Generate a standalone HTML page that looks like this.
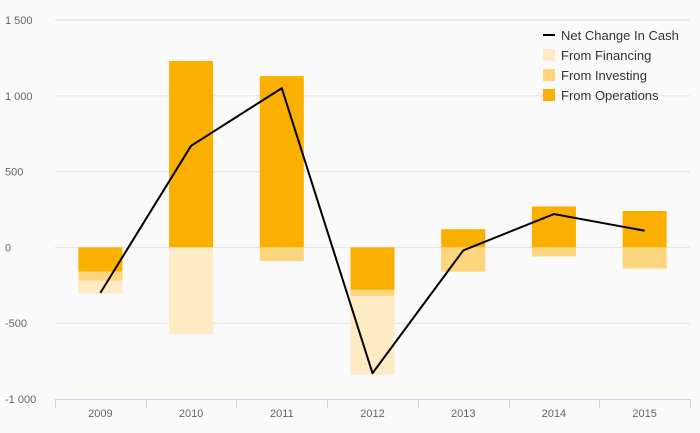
<!DOCTYPE html>
<html><head><meta charset="utf-8">
<style>
html,body{margin:0;padding:0;background:#fafafa;}
svg{display:block;font-family:"Liberation Sans",sans-serif;}
</style></head>
<body>
<svg id="chart" width="700" height="433" xmlns="http://www.w3.org/2000/svg">
<rect width="700" height="433" fill="#fafafa"/>
</svg>
<script>
const categories = ["2009","2010","2011","2012","2013","2014","2015"];
const operations = [-160, 1230, 1130, -280, 120, 270, 240];
const investing = [-60, 0, -90, -40, -160, -60, -140];
const financing = [-85, -570, 0, -520, 0, 0, 0];
const netChange = [-300, 670, 1050, -830, -20, 220, 110];
const yTicks = [1500, 1000, 500, 0, -500, -1000];
const yTickLabels = ["1 500","1 000","500","0","-500","-1 000"];

const NS = "http://www.w3.org/2000/svg";
const svg = document.getElementById("chart");
const L = 55, R = 690, T = 20, B = 399, yMin = -1000, yMax = 1500;
const band = (R - L) / categories.length;
const barW = 44;
function y(v){ return B - (v - yMin) / (yMax - yMin) * (B - T); }
function xc(i){ return L + band * (i + 0.5); }
function mk(tag, attrs){ const e = document.createElementNS(NS, tag); for (const k in attrs) e.setAttribute(k, attrs[k]); svg.appendChild(e); return e; }

yTicks.forEach((v, i) => {
  if (v !== yMin) {
    const g = mk("line", {x1: L, x2: R, y1: y(v), y2: y(v), stroke: "#e3e3e3", "stroke-width": 1});
    
    
  }
  const t = mk("text", {x: 5, y: y(v) + 4, "font-size": 11, fill: "#666"});
  t.textContent = yTickLabels[i];
  
  
});

const ax = mk("line", {x1: L, x2: R, y1: B + 0.5, y2: B + 0.5, stroke: "#ccd6eb", "stroke-width": 1});


for (let i = 0; i <= categories.length; i++) {
  const x = Math.round(L + band * i) + 0.5;
  const tk = mk("line", {x1: x, x2: x, y1: B, y2: B + 9, stroke: "#ccd6eb", "stroke-width": 1});
  
  
}
categories.forEach((c, i) => {
  const t = mk("text", {x: xc(i), y: 417, "font-size": 11, fill: "#666", "text-anchor": "middle"});
  t.textContent = c;
  
  
});

const series = [
  {name: "operations", data: operations, color: "#f9b000"},
  {name: "investing", data: investing, color: "#fdd57e"},
  {name: "financing", data: financing, color: "#feeac3"}
];
categories.forEach((c, i) => {
  let pos = 0, neg = 0;
  series.forEach(s => {
    const v = s.data[i];
    if (v === 0) return;
    let a, b;
    if (v > 0) { a = pos; b = pos + v; pos = b; } else { a = neg; b = neg + v; neg = b; }
    const top = y(Math.max(a, b)), bot = y(Math.min(a, b));
    const r = mk("rect", {x: xc(i) - barW / 2, y: top, width: barW, height: bot - top, fill: s.color});
    
    
  });
});

const pts = netChange.map((v, i) => xc(i) + "," + y(v)).join(" ");
const line = mk("polyline", {points: pts, fill: "none", stroke: "#000", "stroke-width": 2, "stroke-linejoin": "round"});



const legend = [
  {label: "Net Change In Cash", color: "#000", line: true},
  {label: "From Financing", color: "#feeac3"},
  {label: "From Investing", color: "#fdd57e"},
  {label: "From Operations", color: "#f9b000"}
];
legend.forEach((l, i) => {
  const yy = 35 + i * 20;
  if (l.line) {
    const m = mk("rect", {x: 543, y: yy - 1, width: 12, height: 2, fill: l.color});
    
    
  } else {
    const m = mk("rect", {x: 543, y: yy - 6, width: 12, height: 12, fill: l.color});
    
    
  }
  const t = mk("text", {x: 561, y: yy + 5, "font-size": 13, fill: "#333"});
  t.textContent = l.label;
  
  
});
</script>
</body></html>
